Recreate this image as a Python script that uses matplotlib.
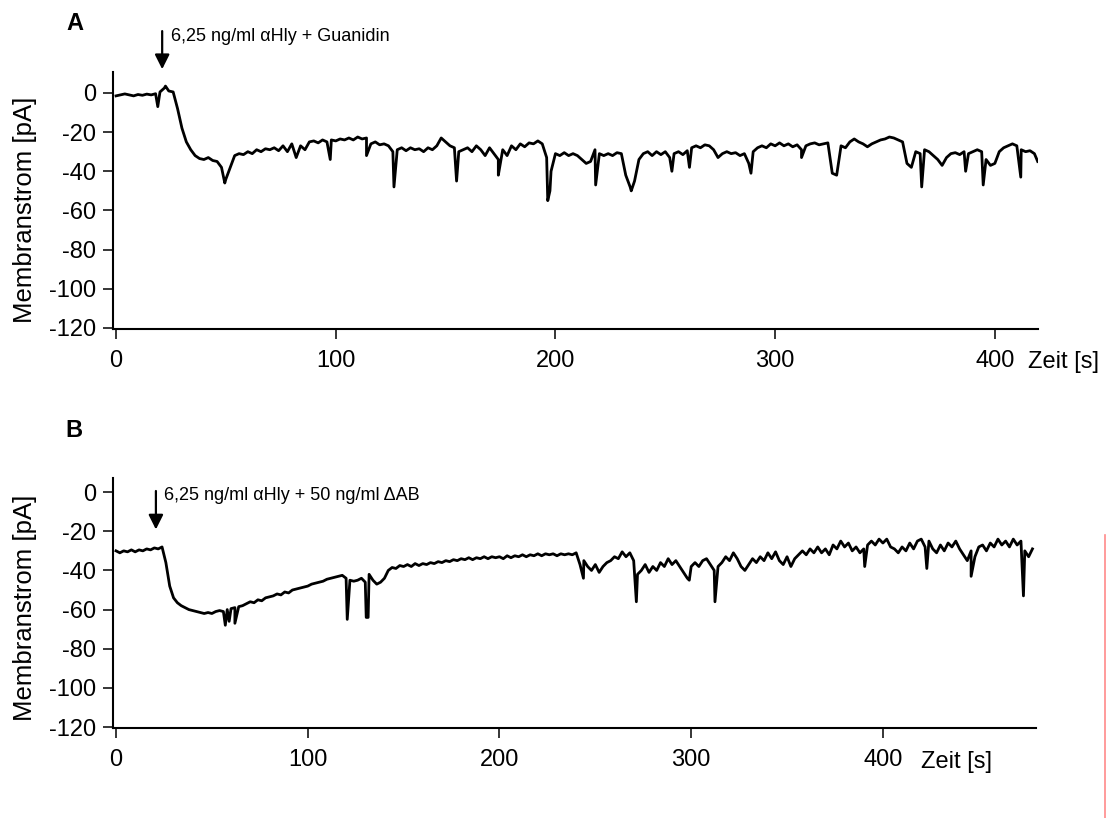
import numpy as np
import matplotlib
matplotlib.use("Agg")
import matplotlib.pyplot as plt
from matplotlib.lines import Line2D

plt.rcParams["font.family"] = ["Liberation Sans", "DejaVu Sans"]
plt.rcParams["axes.unicode_minus"] = False

step_s = 2

current_a = [
    -1.5, -1.0, -0.5, -1.0, -1.5, -0.8, -1.2, -0.6, -1.0, -0.4,
    0.5, 2.5, 1.0, 0.5, -8.0, -18.0, -25.0, -29.0, -32.0, -33.5,
    -34.0, -33.0, -34.5, -35.0, -38.0, -44.0, -38.0, -32.0, -31.0, -31.5,
    -30.0, -31.0, -29.0, -30.0, -28.5, -29.0, -28.0, -29.5, -27.0, -30.0,
    -26.0, -33.0, -27.0, -29.0, -25.0, -24.5, -25.5, -24.0, -25.0, -24.0,
    -24.5, -23.5, -24.0, -23.0, -24.0, -22.5, -23.5, -23.0, -26.0, -25.0,
    -26.5, -26.0, -27.0, -30.0, -29.0, -28.0, -29.5, -28.0, -29.0, -28.5,
    -30.0, -28.0, -29.0, -27.0, -23.0, -25.0, -27.0, -28.0, -30.0, -29.0,
    -28.0, -30.0, -27.0, -29.0, -32.0, -28.0, -31.0, -34.0, -29.0, -32.0,
    -27.0, -29.0, -26.0, -27.5, -25.5, -26.0, -24.5, -26.0, -33.0, -40.0,
    -31.0, -32.0, -30.5, -32.0, -31.0, -32.0, -34.0, -36.0, -35.0, -29.0,
    -31.0, -32.0, -31.0, -32.0, -30.5, -31.0, -42.0, -48.0, -45.0, -34.0,
    -31.0, -30.0, -32.0, -30.0, -31.5, -30.0, -33.0, -31.0, -30.0, -31.5,
    -29.5, -28.0, -27.0, -28.0, -26.5, -27.0, -29.0, -33.0, -31.0, -30.0,
    -31.0, -30.5, -32.0, -31.0, -36.0, -30.0, -28.0, -27.0, -28.0, -26.0,
    -27.0, -25.5, -27.0, -26.0, -27.5, -26.5, -29.0, -27.0, -26.0, -25.5,
    -26.5, -26.0, -25.5, -41.0, -42.0, -27.0, -28.0, -25.0, -23.5, -25.0,
    -26.0, -27.5, -26.0, -25.0, -24.0, -23.5, -22.5, -23.0, -24.0, -25.0,
    -36.0, -38.0, -30.0, -31.0, -29.0, -30.0, -32.0, -34.0, -37.0, -33.0,
    -31.0, -30.5, -31.5, -30.0, -31.0, -30.0, -29.0, -30.0, -34.0, -37.0,
    -36.0, -30.0, -28.0, -27.0, -26.0, -27.0, -29.0, -30.0, -29.5, -31.0,
]
spike_t_a = [19, 22.5, 49.5, 97.5, 114, 126.5, 155, 174, 196.5, 197.5,
             218.3, 234.5, 253, 261, 289, 312, 366.7, 386.7, 394.7, 411.8,
             419.5]
spike_v_a = [-7, 3.5, -46, -34, -32, -48, -45, -42, -55, -50,
             -47, -50, -40, -38, -41, -33, -48, -40, -47, -43,
             -35]

current_b = [
    -30.0, -31.0, -30.0, -30.5, -29.5, -30.5, -29.5, -30.0, -29.0, -29.5,
    -28.5, -29.0, -28.0, -36.0, -48.0, -54.0, -56.5, -58.0, -59.0, -60.0,
    -60.5, -61.0, -61.5, -62.0, -61.5, -62.0, -61.0, -60.5, -61.0, -60.0,
    -59.5, -59.0, -58.5, -58.0, -57.0, -56.0, -56.5, -55.0, -55.5, -54.0,
    -53.5, -53.0, -52.0, -52.5, -51.0, -51.5, -50.0, -49.5, -49.0, -48.5,
    -48.0, -47.0, -46.5, -46.0, -45.5, -44.5, -44.0, -43.5, -43.0, -42.5,
    -44.0, -45.0, -45.5, -45.0, -44.0, -46.0, -42.0, -45.0, -47.0, -46.0,
    -44.0, -40.0, -38.5, -39.0, -37.5, -38.0, -37.0, -38.0, -36.5, -37.5,
    -36.5, -37.0, -36.0, -36.5, -35.5, -36.0, -35.0, -35.5, -34.5, -35.0,
    -34.0, -34.5, -33.5, -34.5, -33.5, -34.0, -33.0, -34.0, -33.0, -33.5,
    -33.0, -34.0, -32.5, -33.5, -32.5, -33.0, -32.0, -33.0, -32.0, -32.5,
    -31.5, -32.5, -31.5, -32.0, -31.5, -32.5, -31.5, -32.0, -31.5, -32.0,
    -31.0, -37.0, -35.0, -38.0, -40.0, -37.0, -41.0, -38.0, -36.0, -35.0,
    -33.0, -34.0, -30.5, -33.0, -31.0, -35.0, -42.0, -40.0, -37.0, -41.0,
    -38.0, -40.0, -36.0, -38.0, -34.0, -37.0, -35.0, -38.0, -41.0, -44.0,
    -38.0, -36.0, -38.0, -35.0, -34.0, -37.0, -40.0, -38.0, -36.0, -33.0,
    -35.0, -31.0, -34.0, -38.0, -40.0, -37.0, -34.0, -36.0, -33.0, -35.0,
    -31.0, -34.0, -30.5, -35.0, -37.0, -33.0, -38.0, -34.0, -32.0, -30.0,
    -32.0, -29.0, -31.0, -28.0, -31.0, -29.0, -32.0, -27.0, -29.0, -25.0,
    -28.0, -26.0, -30.0, -28.0, -31.0, -29.0, -27.0, -25.0, -27.0, -24.0,
    -26.0, -24.0, -28.0, -29.0, -31.0, -28.0, -30.0, -26.0, -29.0, -25.0,
    -24.0, -28.0, -25.0, -29.0, -31.0, -27.0, -30.0, -26.0, -28.0, -25.0,
    -29.0, -32.0, -35.0, -30.0, -33.0, -28.0, -27.0, -30.0, -26.0, -28.0,
    -24.0, -27.0, -25.0, -28.0, -24.0, -27.0, -25.0, -30.0, -33.0, -29.0,
]
spike_t_b = [57, 59, 62, 120.6, 130.5, 131.5, 243.8, 271.4, 299, 312.4,
             390.5, 422.9, 446, 473.3]
spike_v_b = [-68, -66, -67, -65, -64, -64, -44, -56, -45, -56,
             -38, -39, -43, -53]

x_ticks = [0, 100, 200, 300, 400]
y_ticks = [0, -20, -40, -60, -80, -100, -120]

label_a = "6,25 ng/ml \u03b1Hly + Guanidin"
label_b = "6,25 ng/ml \u03b1Hly + 50 ng/ml \u0394AB"
y_label = "Membranstrom [pA]"
x_label = "Zeit [s]"


def trace(values, spike_t, spike_v):
    t = np.arange(len(values)) * step_s
    tt = np.concatenate([t, spike_t])
    vv = np.concatenate([values, spike_v])
    order = np.argsort(tt, kind="stable")
    return tt[order], vv[order]


def style_axes(ax, xlim, ylim):
    ax.set_xlim(*xlim)
    ax.set_ylim(*ylim)
    ax.set_xticks(x_ticks)
    ax.set_yticks(y_ticks)
    for side in ["top", "right"]:
        ax.spines[side].set_visible(False)
    for side in ["left", "bottom"]:
        ax.spines[side].set_linewidth(1.5)
    ax.tick_params(direction="out", length=7, width=1.1, labelsize=17)
    ax.tick_params(axis="x", pad=8)
    ax.tick_params(axis="y", pad=5)
    ax.set_ylabel(y_label, fontsize=18.5)


fig = plt.figure(figsize=(11.14, 8.18), dpi=100)
ax_a = fig.add_axes([0.1014, 0.5972, 0.8303, 0.3148])
ax_b = fig.add_axes([0.1014, 0.1100, 0.8285, 0.3056])

t_a, v_a = trace(current_a, spike_t_a, spike_v_a)
t_b, v_b = trace(current_b, spike_t_b, spike_v_b)
ax_a.plot(t_a, v_a, color="black", lw=2.0)
ax_b.plot(t_b, v_b, color="black", lw=2.0)

style_axes(ax_a, (-1.4, 419.6), (-120.8, 10.7))
style_axes(ax_b, (-1.6, 479.8), (-120.5, 7.2))
ax_a.yaxis.set_label_coords(-0.082, 0.464)
ax_b.yaxis.set_label_coords(-0.082, 0.48)

# application arrows
ax_a.annotate("", xy=(21, 10.7), xytext=(21, 33),
              arrowprops=dict(arrowstyle="-|>", color="black", lw=1.6,
                              mutation_scale=22),
              annotation_clip=False)
ax_a.text(25, 28.6, label_a, fontsize=13, va="center", clip_on=False)
ax_b.annotate("", xy=(20.8, -20.5), xytext=(20.8, 2),
              arrowprops=dict(arrowstyle="-|>", color="black", lw=1.6,
                              mutation_scale=22),
              annotation_clip=False)
ax_b.text(25, -1.5, label_b, fontsize=13, va="center")

fig.text(1028 / 1114, 1 - 362 / 818, x_label, fontsize=17, va="center")
fig.text(921 / 1114, 1 - 762 / 818, x_label, fontsize=17, va="center")
fig.text(75 / 1114, 1 - 23 / 818, "A", fontsize=17, fontweight="bold",
         ha="center", va="center")
fig.text(74 / 1114, 1 - 430 / 818, "B", fontsize=17, fontweight="bold",
         ha="center", va="center")

fig.add_artist(Line2D([1105 / 1114, 1105 / 1114], [0, 1 - 535 / 818],
                      transform=fig.transFigure, color="#ff8a8a", lw=1.2))

fig.savefig("out.png", dpi=100)
